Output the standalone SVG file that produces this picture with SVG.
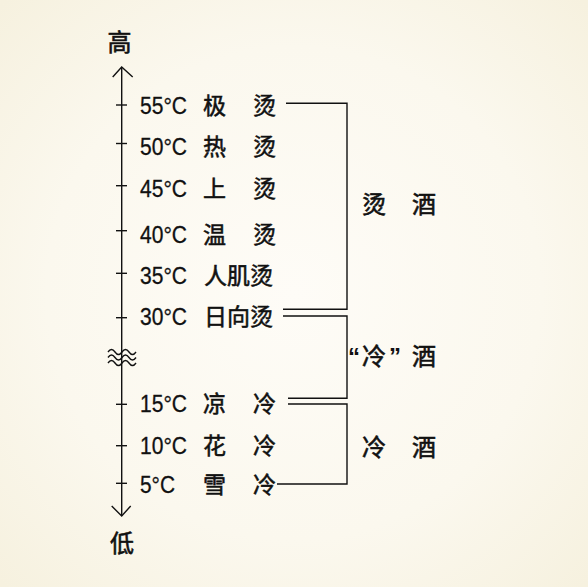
<svg xmlns="http://www.w3.org/2000/svg" width="588" height="587" viewBox="0 0 588 587">
<defs>
<radialGradient id="bg" cx="50%" cy="50%" r="70%">
<stop offset="0" stop-color="#fefcf7"/>
<stop offset="0.6" stop-color="#fbf8ee"/>
<stop offset="1" stop-color="#f6f1df"/>
</radialGradient>
<style>
.ln{stroke:#111;stroke-width:1.4;fill:none}
.num{font-family:"Liberation Sans",Arial,sans-serif;font-size:23.5px;fill:#111;stroke:#111;stroke-width:0.3}
.cjk{font-family:"Noto Sans CJK SC","Noto Sans",sans-serif;font-size:23px;fill:#111;stroke:#111;stroke-width:0.55}
.lab{font-family:"Noto Sans CJK SC","Noto Sans",sans-serif;font-size:24px;fill:#111;stroke:#111;stroke-width:0.6}
.q{font-family:"Liberation Sans",Arial,sans-serif;font-size:24px;fill:#111;font-weight:bold}
</style>
</defs>
<rect width="588" height="587" fill="url(#bg)"/>
<g id="axis">
<line class="ln" x1="121.7" y1="67" x2="121.7" y2="516"/>
<polyline class="ln" points="112.7,77 121.7,67 132.7,77"/>
<polyline class="ln" points="111.7,506 121.7,516 130.7,506"/>
<path class="ln" stroke-width="1.8" d="M108,352 q3.5,-5 7,0 t7,0 t7,0 t7,0 M108,357.5 q3.5,-5 7,0 t7,0 t7,0 t7,0 M108,363 q3.5,-5 7,0 t7,0 t7,0 t7,0"/>
<text class="lab" x="107.5" y="51">高</text>
<text class="lab" x="110" y="552">低</text>
</g>
<g id="ticks">
<line class="ln" x1="116" y1="105" x2="127" y2="105"/>
<line class="ln" x1="116" y1="143.5" x2="127" y2="143.5"/>
<line class="ln" x1="116" y1="185.7" x2="127" y2="185.7"/>
<line class="ln" x1="116" y1="230.7" x2="127" y2="230.7"/>
<line class="ln" x1="116" y1="273.3" x2="127" y2="273.3"/>
<line class="ln" x1="116" y1="317.7" x2="127" y2="317.7"/>
<line class="ln" x1="116" y1="404.3" x2="127" y2="404.3"/>
<line class="ln" x1="116" y1="445.7" x2="127" y2="445.7"/>
<line class="ln" x1="116" y1="483.3" x2="127" y2="483.3"/>
</g>
<g id="t55"><text class="num" x="140" y="114" textLength="47" lengthAdjust="spacingAndGlyphs">55°C</text><text class="cjk" x="203" y="114">极</text><text class="cjk" x="253" y="114">烫</text></g>
<g id="t50"><text class="num" x="140" y="155" textLength="47" lengthAdjust="spacingAndGlyphs">50°C</text><text class="cjk" x="203" y="155">热</text><text class="cjk" x="253" y="155">烫</text></g>
<g id="t45"><text class="num" x="140" y="197" textLength="47" lengthAdjust="spacingAndGlyphs">45°C</text><text class="cjk" x="203" y="197">上</text><text class="cjk" x="253" y="197">烫</text></g>
<g id="t40"><text class="num" x="140" y="243" textLength="47" lengthAdjust="spacingAndGlyphs">40°C</text><text class="cjk" x="203" y="243">温</text><text class="cjk" x="253" y="243">烫</text></g>
<g id="t35"><text class="num" x="140" y="284" textLength="47" lengthAdjust="spacingAndGlyphs">35°C</text><text class="cjk" x="204" y="284">人肌烫</text></g>
<g id="t30"><text class="num" x="140" y="325" textLength="47" lengthAdjust="spacingAndGlyphs">30°C</text><text class="cjk" x="204" y="325">日向烫</text></g>
<g id="t15"><text class="num" x="140" y="412" textLength="47" lengthAdjust="spacingAndGlyphs">15°C</text><text class="cjk" x="203" y="412">凉</text><text class="cjk" x="253" y="412">冷</text></g>
<g id="t10"><text class="num" x="140" y="454" textLength="47" lengthAdjust="spacingAndGlyphs">10°C</text><text class="cjk" x="203" y="454">花</text><text class="cjk" x="253" y="454">冷</text></g>
<g id="t5"><text class="num" x="140" y="493" textLength="35" lengthAdjust="spacingAndGlyphs">5°C</text><text class="cjk" x="203" y="493">雪</text><text class="cjk" x="253" y="493">冷</text></g>
<g id="connectors">
<polyline class="ln" points="286,103.3 347,103.3 347,309.3 283,309.3"/>
<polyline class="ln" points="283,316 347,316 347,398.3 288,398.3"/>
<polyline class="ln" points="288,404 347,404 347,484 277,484"/>
</g>
<g id="hot"><text class="lab" x="362" y="213">烫</text><text class="lab" x="412" y="213">酒</text></g>
<g id="coolish"><text class="q" x="348" y="365">“</text><text class="lab" x="362" y="365">冷</text><text class="q" x="389" y="365">”</text><text class="lab" x="412" y="365">酒</text></g>
<g id="cold"><text class="lab" x="362" y="456">冷</text><text class="lab" x="412" y="456">酒</text></g>
</svg>
